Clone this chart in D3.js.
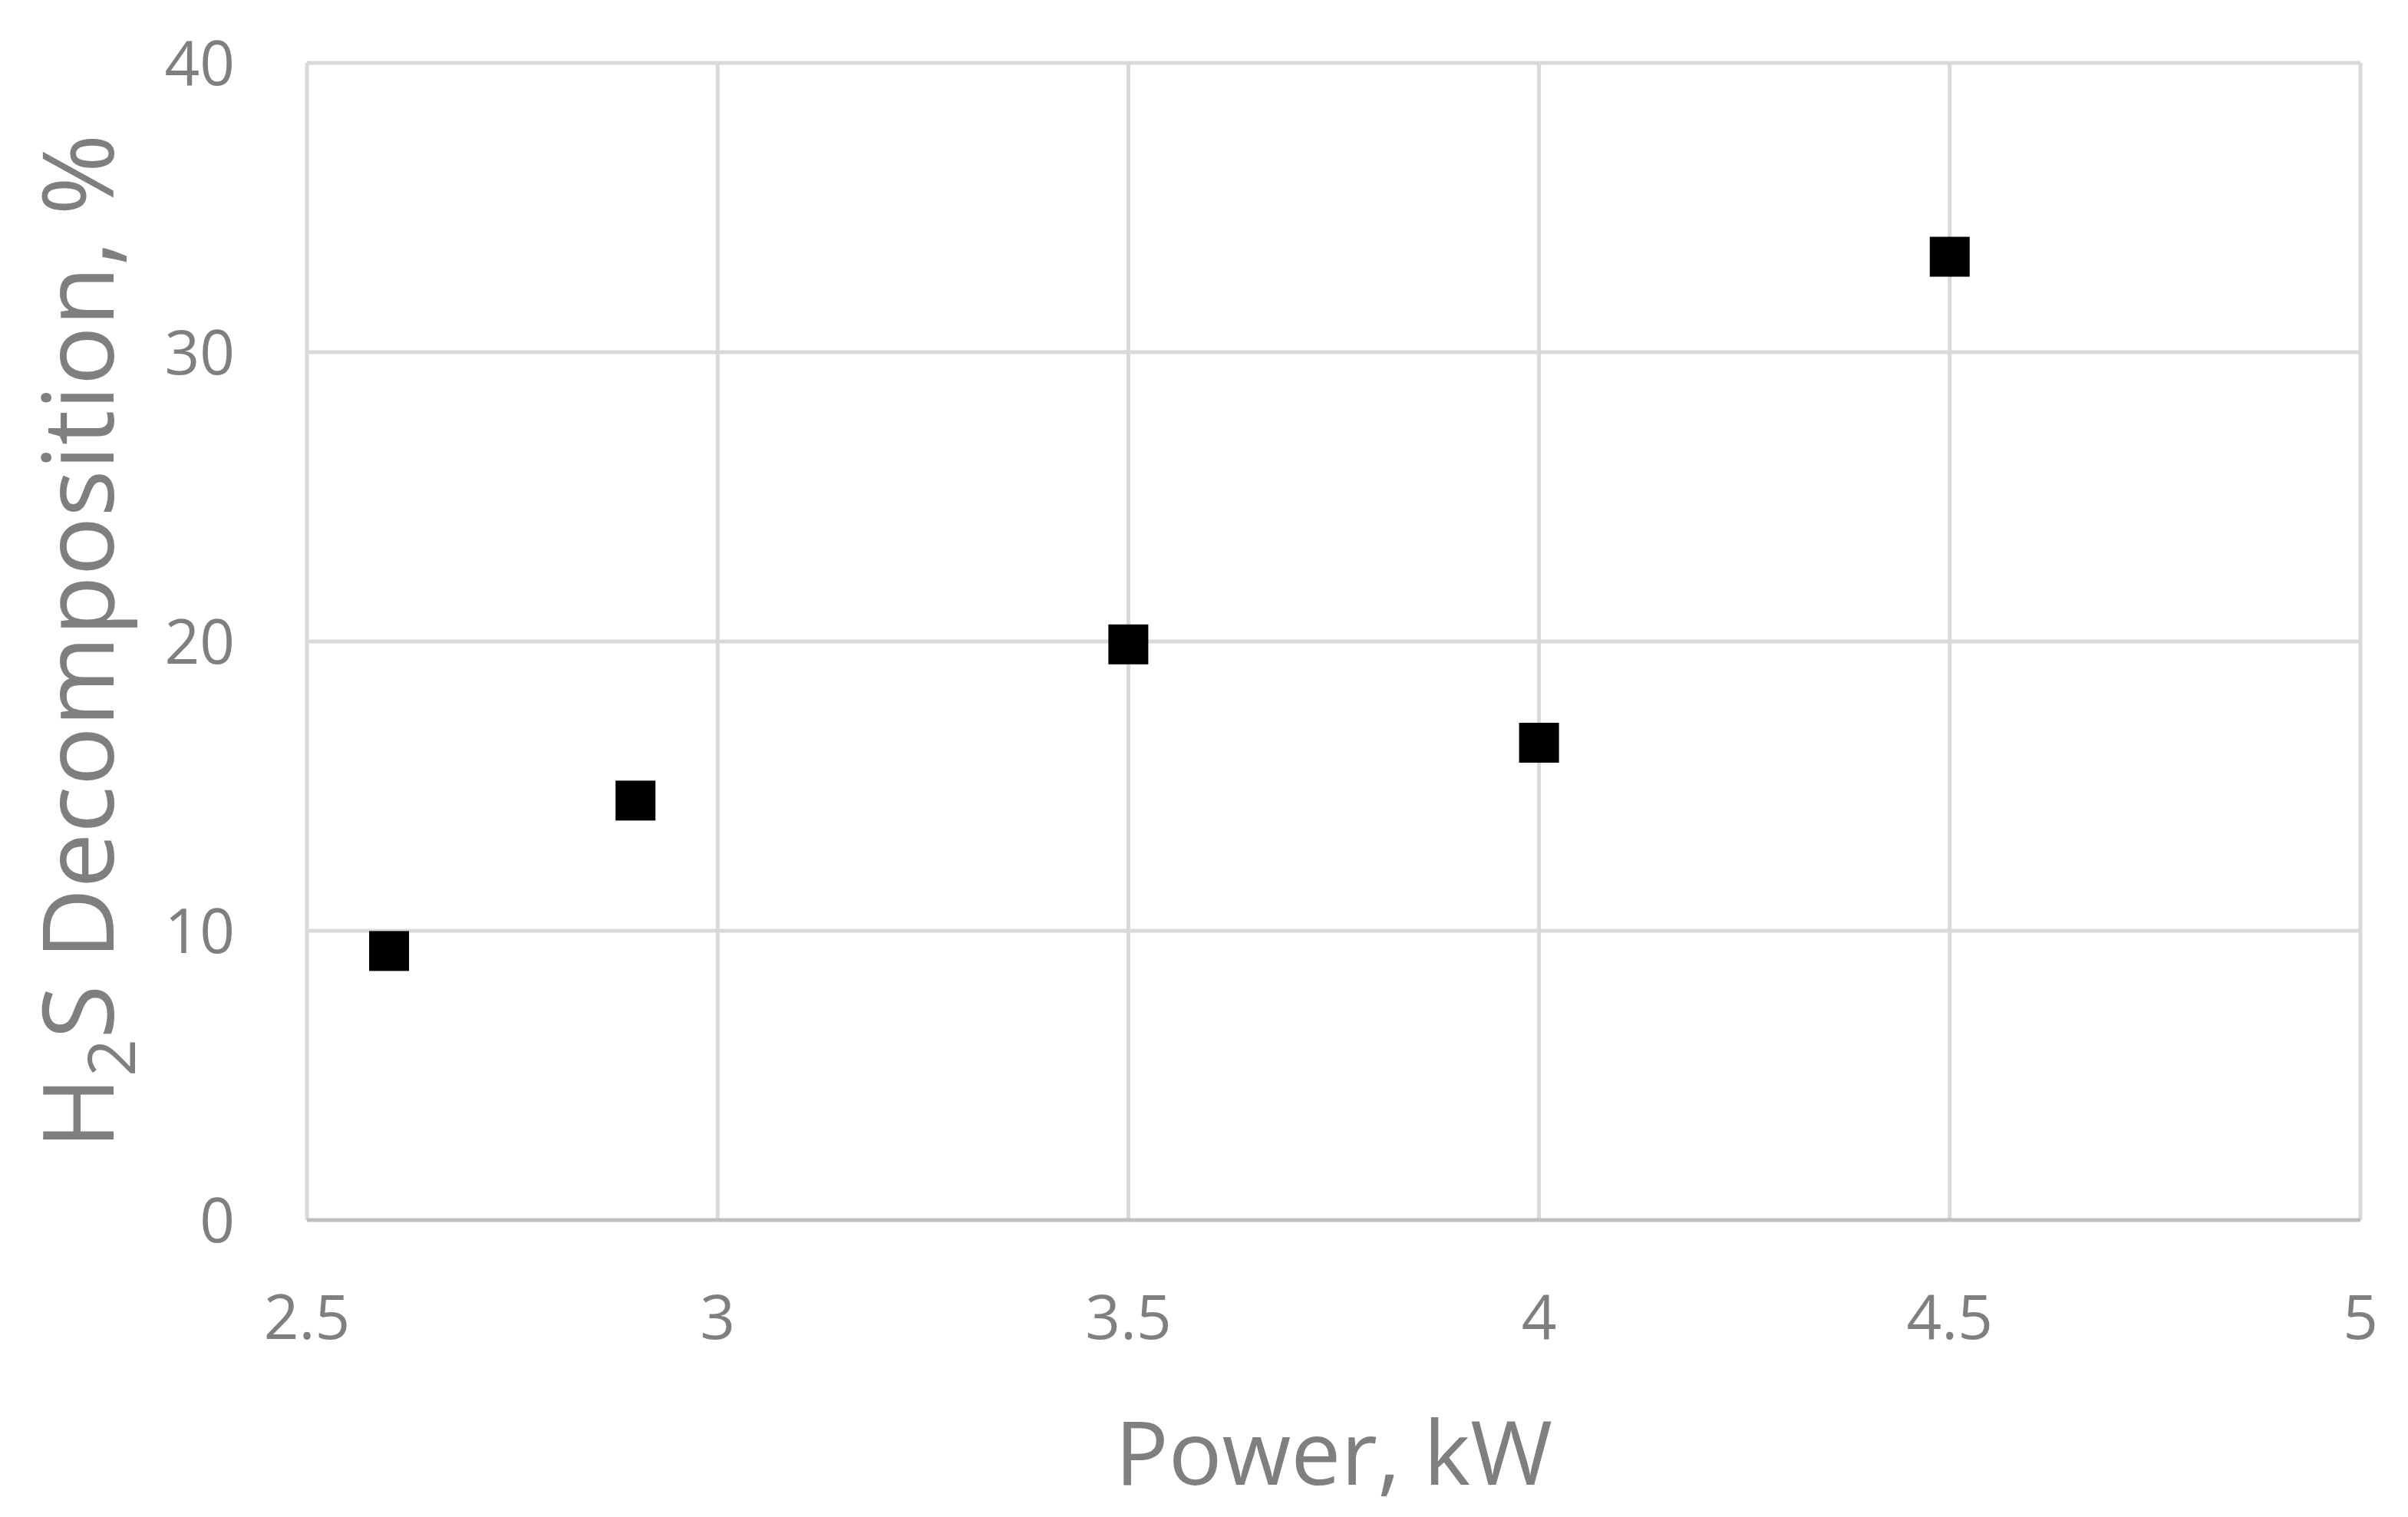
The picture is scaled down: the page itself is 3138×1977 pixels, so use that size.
<html>
<head>
<script src="https://d3js.org/d3.v7.min.js"></script>
<style>
  body { margin: 0; background: #fff; }
  text { font-family: "Open Sans", "Liberation Sans", sans-serif; fill: #7f7f7f; }
</style>
</head>
<body>
<svg width="3138" height="1977"></svg>
<script>
const power = [2.6, 2.9, 3.5, 4.0, 4.5];
const decomposition = [9.3, 14.5, 19.9, 16.5, 33.3];
const xTicks = [2.5, 3, 3.5, 4, 4.5, 5];
const yTicks = [0, 10, 20, 30, 40];

const svg = d3.select('svg');
const m = { left: 400, right: 3076, top: 82, bottom: 1590 };

const x = d3.scaleLinear().domain([2.5, 5]).range([m.left, m.right]);
const y = d3.scaleLinear().domain([0, 40]).range([m.bottom, m.top]);

// grid
svg.append('g').selectAll('line').data(xTicks).join('line')
  .attr('x1', d => x(d)).attr('x2', d => x(d))
  .attr('y1', m.top).attr('y2', m.bottom)
  .attr('stroke', '#d9d9d9').attr('stroke-width', 5);
svg.append('g').selectAll('line').data(yTicks).join('line')
  .attr('x1', m.left).attr('x2', m.right)
  .attr('y1', d => y(d)).attr('y2', d => y(d))
  .attr('stroke', d => d === 0 ? '#bfbfbf' : '#d9d9d9').attr('stroke-width', 5);

// tick labels
svg.append('g').selectAll('text').data(xTicks).join('text')
  .attr('x', d => x(d)).attr('y', 1745)
  .attr('text-anchor', 'middle').attr('font-size', 80)
  .text(d => d);
svg.append('g').selectAll('text').data(yTicks).join('text')
  .attr('x', 306).attr('y', d => y(d) + 29)
  .attr('text-anchor', 'end').attr('font-size', 80)
  .text(d => d);

// titles
svg.append('text').attr('x', (m.left + m.right) / 2).attr('y', 1935)
  .attr('text-anchor', 'middle').attr('font-size', 116).text('Power, kW');

const yt = svg.append('text')
  .attr('transform', 'translate(148,' + ((m.top + m.bottom) / 2) + ') rotate(-90)')
  .attr('text-anchor', 'middle').attr('font-size', 128);
yt.append('tspan').text('H');
yt.append('tspan').attr('font-size', 86).attr('dy', 28).text('2');
yt.append('tspan').attr('dy', -28).text('S Decomposition, %');

// markers
const s = 52;
svg.append('g').selectAll('rect').data(power).join('rect')
  .attr('x', d => x(d) - s / 2)
  .attr('y', (d, i) => y(decomposition[i]) - s / 2)
  .attr('width', s).attr('height', s)
  .attr('fill', '#000');
</script>
</body>
</html>
